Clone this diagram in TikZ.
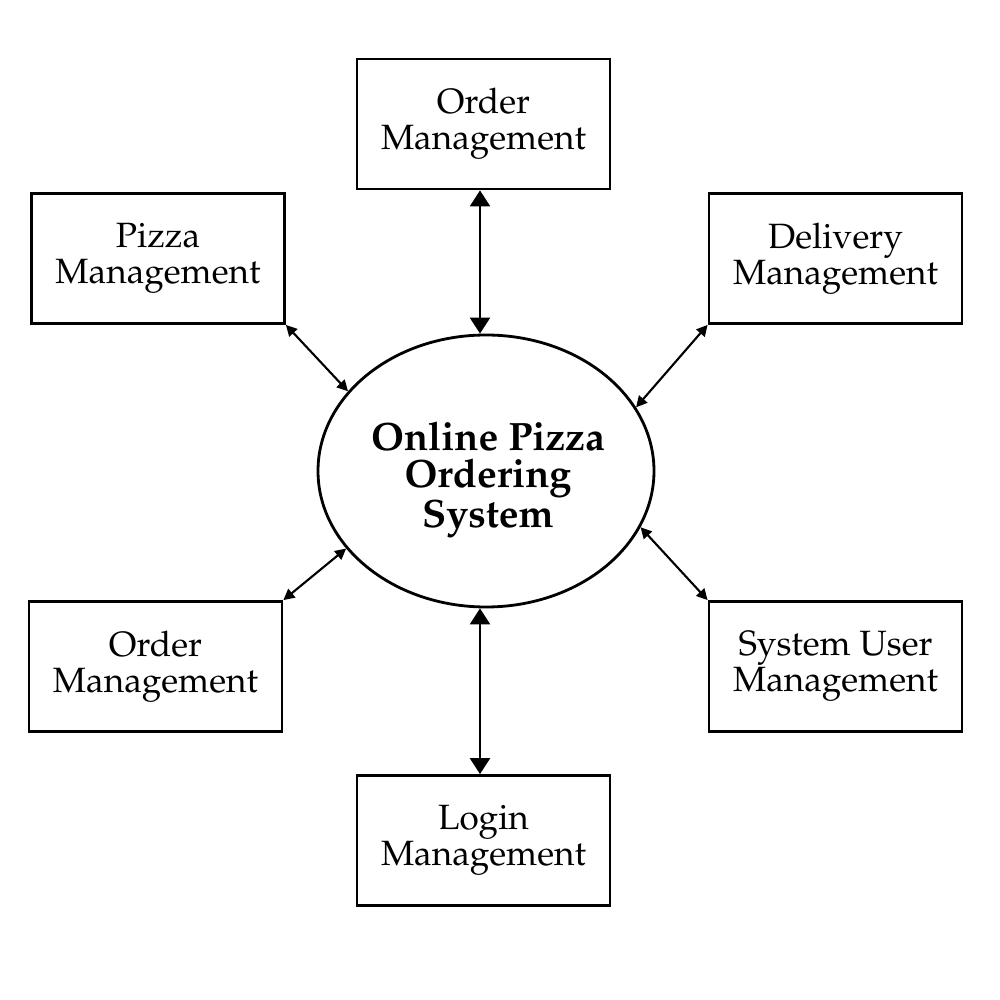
\documentclass[tikz,border=0pt]{standalone}
\usepackage[T1]{fontenc}
\usepackage{mathpazo}
\usepackage{tikz}
\usetikzlibrary{arrows.meta, positioning, shapes.geometric}

\begin{document}
\begin{tikzpicture}[
    module/.style={draw, line width=1.6pt, minimum width=5.06cm, minimum height=2.6cm,
        align=center, inner sep=0pt, font=\fontsize{20}{20.5}\selectfont},
    core/.style={draw, ellipse, line width=1.6pt, minimum width=6.72cm, minimum height=5.44cm,
        inner sep=0pt},
    coretext/.style={align=center, inner sep=0pt, font=\fontsize{22.5}{21}\selectfont\bfseries},
    biglink/.style={line width=1.4pt, {Triangle[length=0.32cm, width=0.4cm]}-{Triangle[length=0.32cm, width=0.4cm]}},
    smalllink/.style={line width=1.2pt, {Triangle[length=0.22cm, width=0.22cm]}-{Triangle[length=0.22cm, width=0.22cm]}}
]
    \useasboundingbox (0,0) rectangle (20,20);

    % Central system
    \node[core] (sys) at (9.72, 10.58) {};
    \node[coretext] (systext) at ([xshift=0.04cm, yshift=-0.18cm]sys.center) {Online Pizza\\Ordering\\System};

    % Surrounding modules
    \node[module] (ordtop) at (9.67, 17.52) {Order\\Management};
    \node[module] (pizza) at (3.16, 14.83) {Pizza\\Management};
    \node[module] (delivery) at (16.71, 14.83) {Delivery\\Management};
    \node[module] (ordleft) at (3.11, 6.67) {Order\\Management};
    \node[module] (sysuser) at (16.71, 6.67) {System User\\Management};
    \node[module] (login) at (9.67, 3.19) {Login\\Management};

    % Vertical links
    \coordinate (toplink) at ([xshift=-0.07cm]ordtop.south);
    \coordinate (botlink) at ([xshift=-0.07cm]login.north);
    \draw[biglink] (toplink) -- (toplink |- sys.north);
    \draw[biglink] (botlink |- sys.south) -- (botlink);

    % Diagonal links
    \draw[smalllink] (pizza.south east) -- (sys.150);
    \draw[smalllink] (delivery.south west) -- (sys.23);
    \draw[smalllink] (ordleft.north east) -- (sys.209);
    \draw[smalllink] (sysuser.north west) -- (sys.340);
\end{tikzpicture}
\end{document}
